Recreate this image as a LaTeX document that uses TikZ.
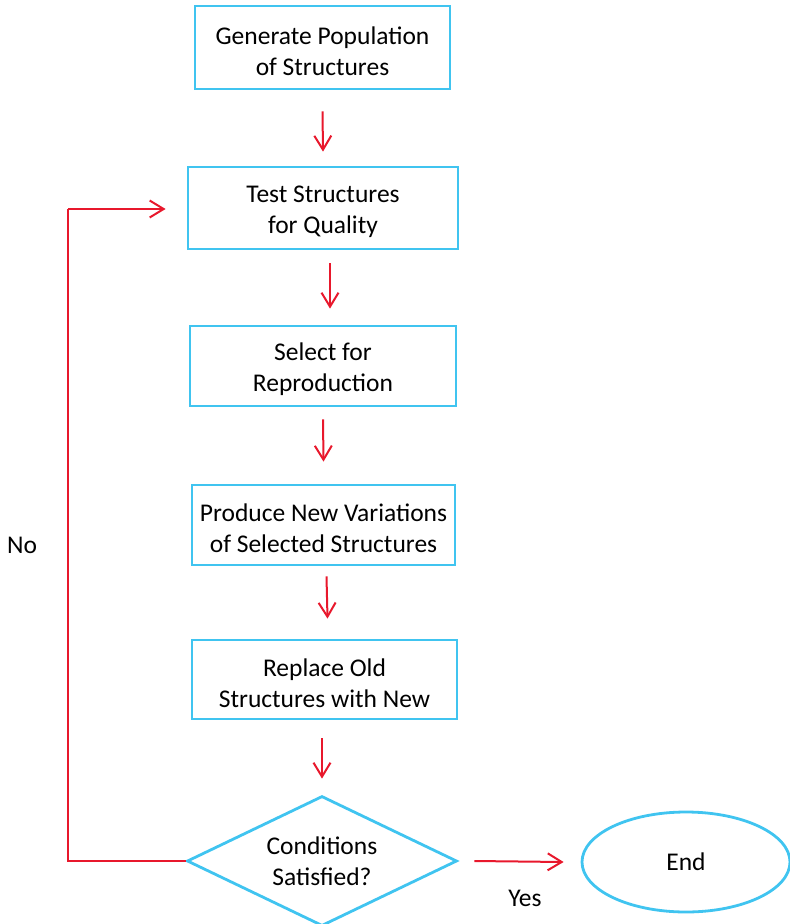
\documentclass[tikz,border=0pt]{standalone}
\usepackage{fontspec}
\setmainfont{Carlito}
\usetikzlibrary{arrows.meta,shapes.geometric}
\definecolor{boxblue}{RGB}{64,196,240}
\definecolor{arrred}{RGB}{232,24,44}
\newcommand{\lift}{\rule{0pt}{25pt}}
\begin{document}
\begin{tikzpicture}[x=1pt,y=-1pt,
  font=\fontsize{25.5}{31}\selectfont,
  stepbox/.style={draw=boxblue,line width=2.8pt,align=center,inner sep=0pt},
  arr/.style={draw=arrred,line width=2pt,-{Straight Barb[length=14pt,width=17pt,line width=2pt]}},
  link/.style={draw=arrred,line width=2pt}]
\useasboundingbox (0,0) rectangle (790,924);
\node[stepbox,minimum width=255pt,minimum height=83pt] (b1) at (322.5,47.5) {\lift Generate Population\\of Structures};
\node[stepbox,minimum width=270pt,minimum height=82pt] (b2) at (323,208) {\lift Test Structures\\for Quality};
\node[stepbox,minimum width=266pt,minimum height=80pt] (b3) at (323,366) {\lift Select for\\Reproduction};
\node[stepbox,minimum width=263pt,minimum height=80pt] (b4) at (323.5,525) {\lift Produce New Variations\\of Selected Structures};
\node[stepbox,minimum width=265pt,minimum height=79pt] (b5) at (324.5,679.5) {\lift Replace Old\\Structures with New};
\node[stepbox,diamond,minimum width=270pt,minimum height=130pt,aspect=2.08] (d) at (322,861) {Conditions\\Satisfied?};
\node[stepbox,ellipse,minimum width=208pt,minimum height=100pt] (e) at (686,862) {End};
\node (yes) at (525,898) {Yes};
\node (no) at (22,545) {No};
\draw[arr] ([yshift=-21pt]b1.south) -- ([yshift=14pt]b2.north);
\draw[arr] ([xshift=7pt,yshift=-13pt]b2.south) -- ([xshift=7pt,yshift=16pt]b3.north);
\draw[arr] ([yshift=-12pt]b3.south) -- ([yshift=22pt]b4.north);
\draw[arr] ([xshift=3pt,yshift=-10pt]b4.south) -- ([xshift=3pt,yshift=20pt]b5.north);
\draw[arr] ([xshift=-2.5pt,yshift=-18pt]b5.south) -- ([yshift=16pt]d.north);
\draw[arr] ([xshift=16pt]d.east) -- ([xshift=-17pt]e.west);
\coordinate (c1) at (68,861);
\coordinate (c2) at (68,209);
\draw[link] (d.west) -- (c1) -- (c2);
\draw[arr] (c2) -- ([xshift=-21pt]b2.west |- c2);
\end{tikzpicture}
\end{document}
